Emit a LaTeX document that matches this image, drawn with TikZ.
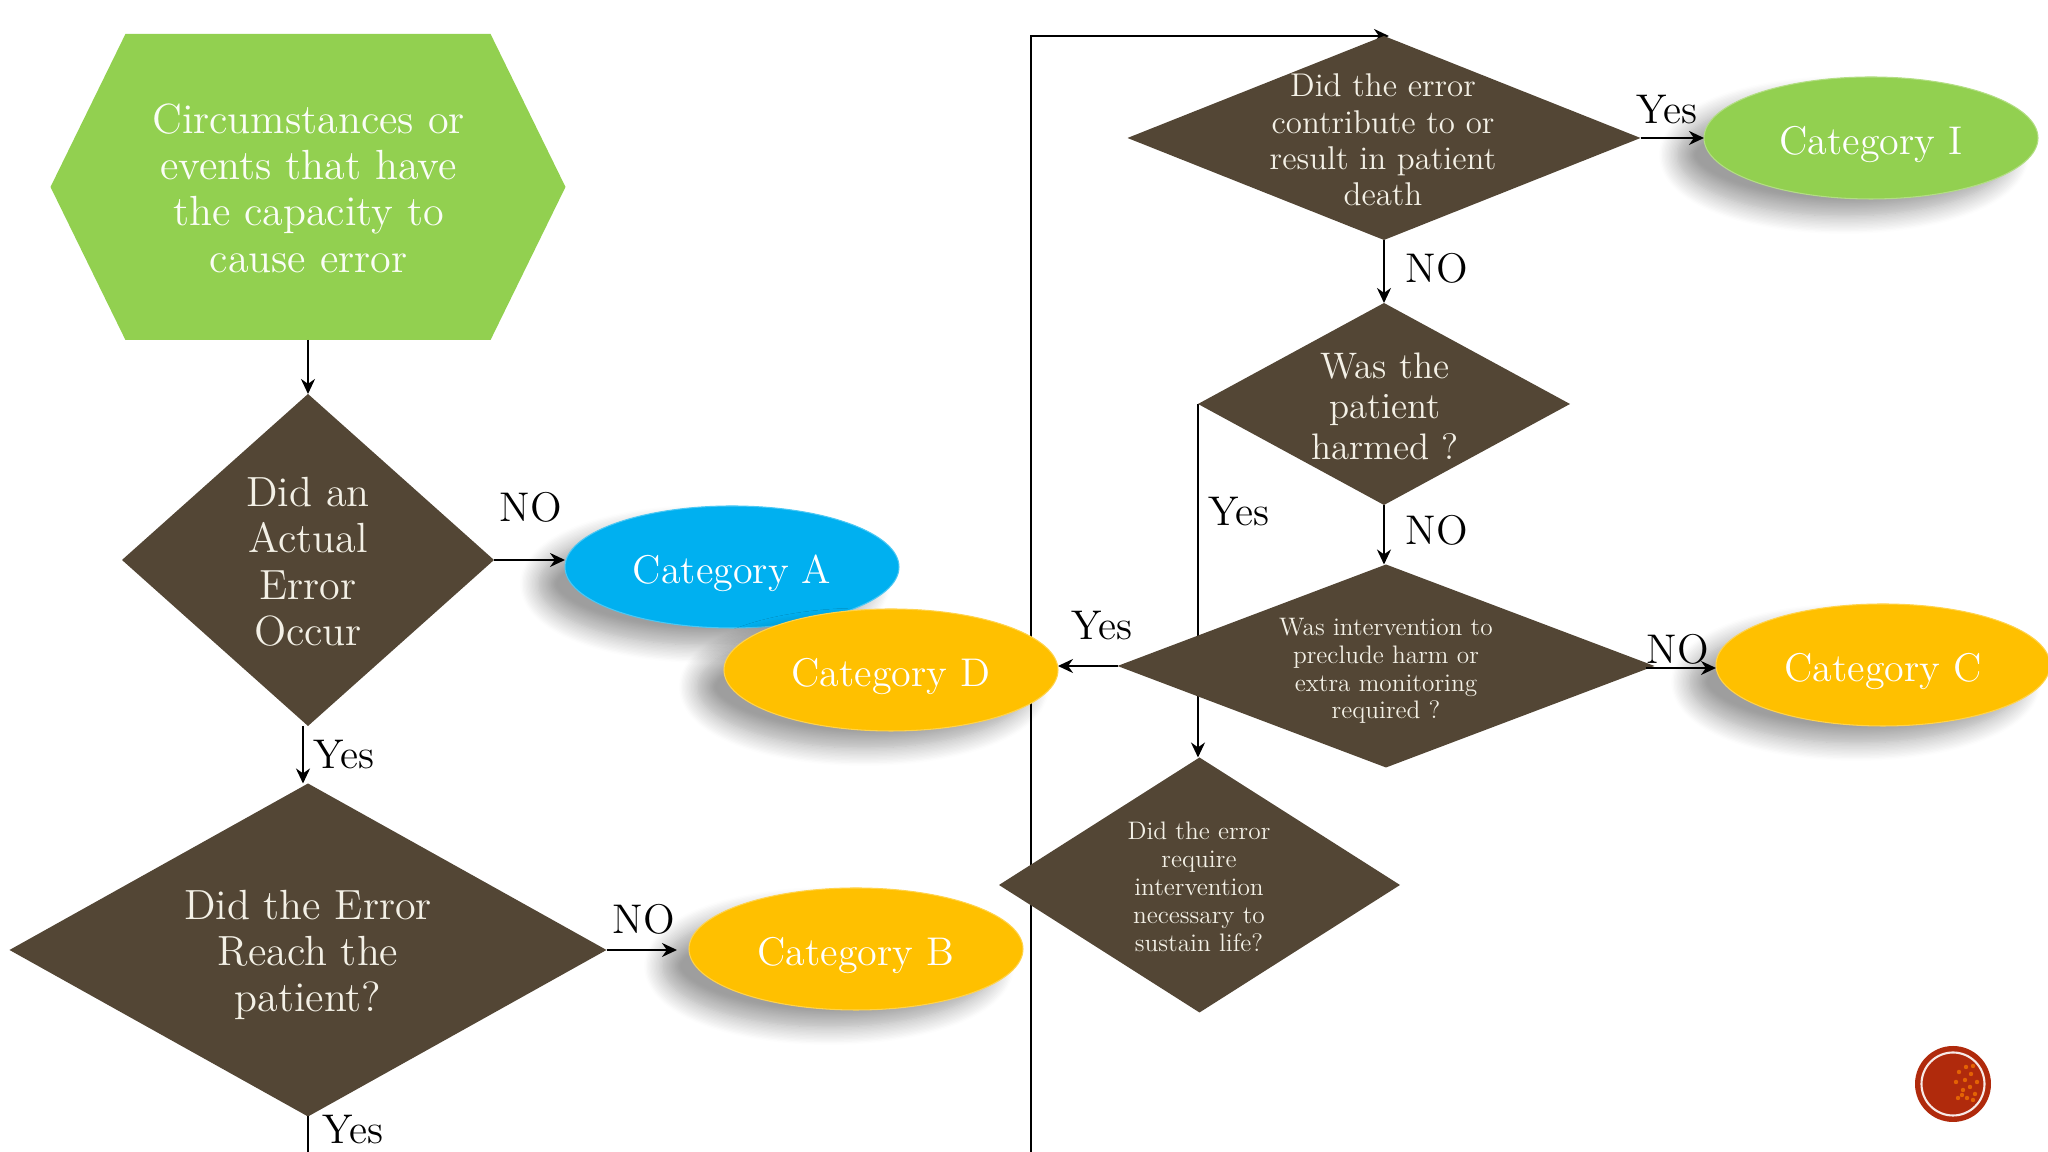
\documentclass[tikz,border=0pt]{standalone}
\usepackage{tikz}
\usetikzlibrary{shapes.geometric,shapes.symbols,arrows.meta,backgrounds,shadows.blur}

\definecolor{leaf}{HTML}{92D050}
\definecolor{bark}{HTML}{534635}
\definecolor{sky}{HTML}{00B0F0}
\definecolor{gold}{HTML}{FFC000}
\definecolor{rust}{HTML}{B02A0C}
\definecolor{cream}{HTML}{F3F0E6}

\tikzset{
    decide/.style={diamond, fill=bark, inner sep=0pt, outer sep=0pt},
    asks/.style={text=cream, align=center, inner sep=0pt, font=\fontsize{12}{13.2}\selectfont},
    cat/.style={ellipse, minimum width=3.34cm, minimum height=1.22cm, inner sep=0pt, outer sep=0pt,
        text=white, font=\fontsize{11.4}{15}\selectfont, text height=9.6pt, text depth=0pt,
        blur shadow={shadow xshift=-0.27cm, shadow yshift=-0.17cm, shadow blur radius=0.18cm, shadow blur steps=14, shadow opacity=38}},
    flow/.style={draw=black, line width=0.6pt, -{Stealth[length=1.5mm,width=1.4mm]}},
    tag/.style={font=\fontsize{11.8}{14}\selectfont, inner sep=0pt},
}

\begin{document}
\begin{tikzpicture}
    \useasboundingbox (0,0) rectangle (20.48,11.52);

    % Start box
    \node[signal, signal to=east and west, signal pointer angle=127.8, fill=leaf, inner sep=0pt, outer sep=0pt,
        minimum width=5.15cm, minimum height=3.06cm] (start) at (3.08,9.65) {};
    \node[asks, text=white!95!leaf] (starttxt) at (3.085,9.64)
        {Circumstances or\\events that have\\the capacity to\\cause error};

    % Questions on the left
    \node[decide, minimum width=3.72cm, minimum height=3.32cm] (actual) at (3.08,5.92) {};
    \node[asks] (actualtxt) at (3.08,5.90)
        {Did an\\Actual\\Error\\Occur};
    \node[decide, minimum width=5.97cm, minimum height=3.33cm] (reach) at (3.08,2.02) {};
    \node[asks] (reachtxt) at (3.08,1.97)
        {Did the Error\\Reach the\\patient?};

    % Questions on the right
    \node[decide, minimum width=5.13cm, minimum height=2.04cm] (death) at (13.84,10.14) {};
    \node[asks, scale=0.78] (deathtxt) at (13.83,10.12)
        {Did the error\\contribute to or\\result in patient\\death};
    \node[decide, minimum width=3.72cm, minimum height=2.02cm] (harmed) at (13.84,7.48) {};
    \node[asks, scale=0.875] (harmedtxt) at (13.85,7.46)
        {Was the\\patient\\harmed ?};
    \node[decide, minimum width=5.37cm, minimum height=2.03cm] (preclude) at (13.86,4.86) {};
    \node[asks, scale=0.6] (precludetxt) at (13.86,4.81)
        {Was intervention to\\preclude harm or\\extra monitoring\\required ?};
    \node[decide, minimum width=4.01cm, minimum height=2.55cm] (sustain) at (11.995,2.67) {};
    \node[asks, scale=0.6] (sustaintxt) at (11.99,2.65)
        {Did the error\\require\\intervention\\necessary to\\sustain life?};

    % Categories
    \node[cat, fill=sky, draw=sky!70!white, line width=0.3pt] (catA) at (7.32,5.85) {Category A};
    \node[cat, fill=gold, draw=gold!70!white, line width=0.3pt] (catD) at (8.91,4.82) {Category D};
    \node[cat, fill=gold, draw=gold!70!white, line width=0.3pt] (catB) at (8.56,2.03) {Category B};
    \node[cat, fill=gold, draw=gold!70!white, line width=0.3pt] (catC) at (18.83,4.87) {Category C};
    \node[cat, fill=leaf, draw=leaf!70!white, line width=0.3pt] (catI) at (18.71,10.14) {Category I};

    % Free ends at the bottom edge
    \coordinate (offleft) at (3.08,0);
    \coordinate (offright) at (10.31,0);

    % These two run behind the shapes
    \begin{scope}[on background layer]
        \draw[flow] (offright) |- ([xshift=0.05cm]death.north);
        \draw[flow] (harmed.west) -- (harmed.west |- sustain.north);
    \end{scope}

    % Arrows
    \draw[flow] (start.south) -- (actual.north);
    \draw[flow] (actual.east) -- (actual.east -| catA.west);
    \draw[flow] ([xshift=-0.05cm]actual.south) -- ([xshift=-0.05cm]reach.north);
    \draw[flow, shorten >=0.12cm] (reach.east) -- (reach.east -| catB.west);
    \draw[line width=0.6pt] (reach.south) -- (offleft);
    \draw[flow] (death.east) -- (catI.west);
    \draw[flow] (death.south) -- (harmed.north);
    \draw[flow] (harmed.south) -- (harmed.south |- preclude.north);
    \draw[flow] (preclude.west) -- (preclude.west -| catD.east);
    \draw[flow] ([xshift=-0.09cm,yshift=-0.02cm]preclude.east) -- ([yshift=-0.02cm]preclude.east -| catC.west);

    % Labels on the arrows
    \node[tag] (noA) at (5.31,6.45) {NO};
    \node[tag] (yesA) at (3.44,3.97) {Yes};
    \node[tag] (noB) at (6.44,2.33) {NO};
    \node[tag] (yesB) at (3.53,0.22) {Yes};
    \node[tag] (yesI) at (16.67,10.42) {Yes};
    \node[tag] (noH) at (14.37,8.84) {NO};
    \node[tag] (noP) at (14.37,6.22) {NO};
    \node[tag] (yesS) at (12.39,6.40) {Yes};
    \node[tag] (yesD) at (11.02,5.26) {Yes};
    \node[tag] (noC) at (16.78,5.03) {NO};

    % Badge in the corner
    \node[circle, fill=rust, minimum size=0.76cm, inner sep=0pt] (badge) at (19.53,0.68) {};
    \node[circle, draw=white!90!rust, line width=0.6pt, minimum size=0.63cm, inner sep=0pt] (badgering) at (badge) {};
    \foreach \dx/\dy in {0.06/0.12, 0.12/0.04, 0.18/0.1, 0.1/-0.06, 0.17/-0.03, 0.24/0.02, 0.05/-0.14, 0.14/-0.14, 0.22/-0.1, 0.2/0.18, 0.03/0.02, 0.13/0.17, 0.09/-0.11, 0.2/-0.16}
        \fill[orange!65!rust] ([shift={(\dx,\dy)}]badge) circle (0.022);
\end{tikzpicture}
\end{document}
